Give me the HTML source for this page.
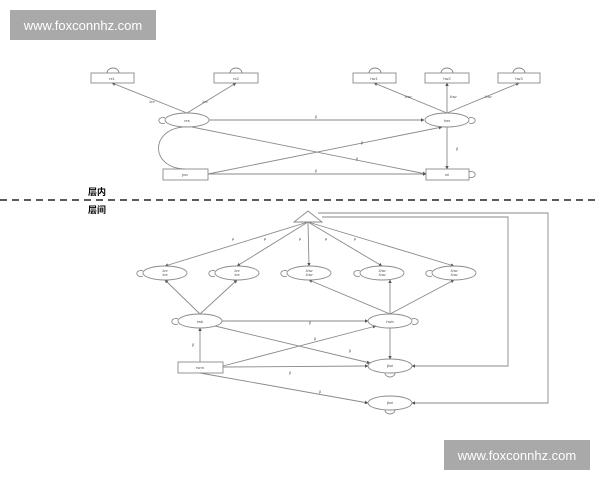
<!DOCTYPE html>
<html><head><meta charset="utf-8"><style>
html,body{margin:0;padding:0;background:#fff;width:600px;height:480px;overflow:hidden}
.wm{position:absolute;background:#a9a9a9;color:#fff;font:13px "Liberation Sans",sans-serif;display:flex;align-items:center;justify-content:center}
svg{position:absolute;left:0;top:0}
</style></head><body>
<svg width="600" height="480" viewBox="0 0 600 480" font-family="Liberation Sans, sans-serif">
<defs><marker id="a" markerWidth="4" markerHeight="4" refX="3.5" refY="2" orient="auto"><path d="M0,0L4,2L0,4z" fill="#555"/></marker></defs>
<g stroke="#8a8a8a" stroke-width="0.9" fill="none">
<line x1="187" y1="113" x2="112" y2="83" marker-end="url(#a)"/>
<line x1="187" y1="113" x2="236" y2="83" marker-end="url(#a)"/>
<line x1="447" y1="113" x2="374" y2="83" marker-end="url(#a)"/>
<line x1="447" y1="113" x2="447" y2="83" marker-end="url(#a)"/>
<line x1="447" y1="113" x2="519" y2="83" marker-end="url(#a)"/>
<line x1="209" y1="120" x2="424" y2="120" marker-end="url(#a)"/>
<line x1="192" y1="127" x2="426" y2="174" marker-end="url(#a)"/>
<line x1="208" y1="174" x2="442" y2="127" marker-end="url(#a)"/>
<line x1="208" y1="174" x2="426" y2="174" marker-end="url(#a)"/>
<line x1="447" y1="127" x2="447" y2="169" marker-end="url(#a)"/>
<path d="M183,127 C150,130 150,168 185,169"/>
<path d="M165,118 a4,3 0 1,0 0,5"/>
<path d="M469,118 a4,3 0 1,1 0,5"/>
<path d="M469,172 a4,3 0 1,1 0,5"/>
<path d="M107,73 a6,5 0 0,1 12,0"/><path d="M230,73 a6,5 0 0,1 12,0"/>
<path d="M369,73 a6,5 0 0,1 12,0"/><path d="M441,73 a6,5 0 0,1 12,0"/><path d="M513,73 a6,5 0 0,1 12,0"/>
<rect x="91" y="73" width="43" height="10"/><rect x="214" y="73" width="44" height="10"/>
<rect x="353" y="73" width="43" height="10"/><rect x="425" y="73" width="44" height="10"/><rect x="498" y="73" width="42" height="10"/>
<rect x="163" y="169" width="45" height="11"/><rect x="426" y="169" width="43" height="11"/>
<ellipse cx="187" cy="120" rx="22" ry="7"/><ellipse cx="447" cy="120" rx="22" ry="7"/>
<polygon points="308,211 294,222 322,222"/>
<line x1="308" y1="222" x2="165" y2="266" marker-end="url(#a)"/>
<line x1="308" y1="222" x2="237" y2="266" marker-end="url(#a)"/>
<line x1="308" y1="222" x2="309" y2="266" marker-end="url(#a)"/>
<line x1="308" y1="222" x2="382" y2="266" marker-end="url(#a)"/>
<line x1="308" y1="222" x2="454" y2="266" marker-end="url(#a)"/>
<line x1="200" y1="314" x2="165" y2="280" marker-end="url(#a)"/>
<line x1="200" y1="314" x2="237" y2="280" marker-end="url(#a)"/>
<line x1="390" y1="314" x2="309" y2="280" marker-end="url(#a)"/>
<line x1="390" y1="314" x2="390" y2="280" marker-end="url(#a)"/>
<line x1="390" y1="314" x2="454" y2="280" marker-end="url(#a)"/>
<line x1="222" y1="321" x2="368" y2="321" marker-end="url(#a)"/>
<line x1="390" y1="328" x2="390" y2="359" marker-end="url(#a)"/>
<line x1="215" y1="326" x2="370" y2="363" marker-end="url(#a)"/>
<line x1="200" y1="362" x2="200" y2="328" marker-end="url(#a)"/>
<line x1="223" y1="366" x2="376" y2="326" marker-end="url(#a)"/>
<line x1="223" y1="367" x2="368" y2="366" marker-end="url(#a)"/>
<line x1="200" y1="373" x2="368" y2="403" marker-end="url(#a)"/>
<polyline points="322,217 508,217 508,366 412,366" marker-end="url(#a)"/>
<polyline points="318,213 548,213 548,403 412,403" marker-end="url(#a)"/>
<rect x="178" y="362" width="45" height="11"/>
<ellipse cx="165" cy="273" rx="22" ry="7"/><ellipse cx="237" cy="273" rx="22" ry="7"/>
<ellipse cx="309" cy="273" rx="22" ry="7"/><ellipse cx="382" cy="273" rx="22" ry="7"/><ellipse cx="454" cy="273" rx="22" ry="7"/>
<ellipse cx="200" cy="321" rx="22" ry="7"/><ellipse cx="390" cy="321" rx="22" ry="7"/>
<ellipse cx="390" cy="366" rx="22" ry="7"/><ellipse cx="390" cy="403" rx="22" ry="7"/>
<path d="M143,271 a4,3 0 1,0 0,5"/><path d="M215,271 a4,3 0 1,0 0,5"/><path d="M287,271 a4,3 0 1,0 0,5"/><path d="M360,271 a4,3 0 1,0 0,5"/><path d="M432,271 a4,3 0 1,0 0,5"/>
<path d="M178,319 a4,3 0 1,0 0,5"/><path d="M412,319 a4,3 0 1,1 0,5"/>
<path d="M385,373 a5,4 0 0,0 10,0"/><path d="M385,410 a5,4 0 0,0 10,0"/>
</g>
<line x1="0" y1="200" x2="600" y2="200" stroke="#222" stroke-width="1.5" stroke-dasharray="7,5"/>
<text x="88" y="195" font-size="9" font-weight="bold" font-family="Noto Sans CJK SC, sans-serif">层内</text>
<text x="88" y="213" font-size="9" font-weight="bold" font-family="Noto Sans CJK SC, sans-serif">层间</text>
<g font-size="4" fill="#555" text-anchor="middle">
<text x="112" y="80">re1</text><text x="236" y="80">re2</text><text x="374" y="80">hw1</text><text x="447" y="80">hw2</text><text x="519" y="80">hw3</text>
<text x="187" y="122">res</text><text x="447" y="122">hwr</text><text x="185" y="176">psv</text><text x="447" y="176">sri</text>
<text x="200" y="323">rwb</text><text x="390" y="323">hwb</text><text x="200" y="369">rsrm</text>
<text x="165" y="272">λre</text><text x="237" y="272">λre</text><text x="309" y="272">λhw</text><text x="382" y="272">λhw</text><text x="454" y="272">λhw</text>
<text x="165" y="276">λre</text><text x="237" y="276">λre</text><text x="309" y="276">λhw</text><text x="382" y="276">λhw</text><text x="454" y="276">λhw</text>
<text x="390" y="367">βsri</text><text x="390" y="404">βsri</text>
<text x="152" y="103">λre</text><text x="205" y="103">λre</text><text x="408" y="98">λhw</text><text x="453" y="98">λhw</text><text x="488" y="98">λhw</text>
<text x="316" y="118">β</text><text x="362" y="144">β</text><text x="357" y="160">β</text><text x="316" y="172">β</text><text x="457" y="150">β</text>
<text x="233" y="240">μ</text><text x="265" y="240">μ</text><text x="300" y="240">μ</text><text x="326" y="240">μ</text><text x="355" y="240">μ</text>
<text x="310" y="324">β</text><text x="315" y="340">β</text><text x="193" y="346">β</text><text x="350" y="352">β</text><text x="290" y="374">β</text><text x="320" y="393">β</text>
</g>
</svg>
<div class="wm" style="left:10px;top:10px;width:146px;height:30px">www.foxconnhz.com</div>
<div class="wm" style="left:444px;top:440px;width:146px;height:30px">www.foxconnhz.com</div>
</body></html>
